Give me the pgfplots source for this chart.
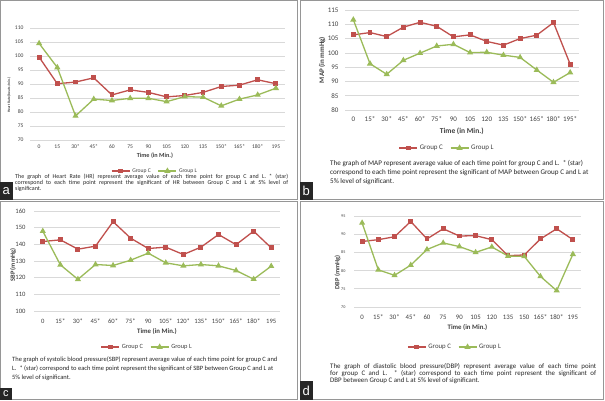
\documentclass[border=0pt]{standalone}
\usepackage{pgfplots}
\pgfplotsset{compat=1.18}
\usepackage{fontspec}
\setmainfont{Carlito}
\newfontfamily\arialfont{Liberation Sans}
\definecolor{cC}{RGB}{192,80,77}
\definecolor{cL}{RGB}{155,187,89}
\definecolor{gridc}{RGB}{217,217,217}
\definecolor{tickc}{RGB}{64,64,64}
\definecolor{framec}{RGB}{150,150,150}
\newcommand{\fs}[1]{\fontsize{#1}{#1}\selectfont}
\pgfplotsset{
 panel/.style={
  scale only axis, xmin=-0.5, xmax=13.5, xtick={0,...,13},
  axis line style={draw=none}, major tick length=0pt,
  ymajorgrids, major grid style={gridc, line width=0.7pt},
  tick label style={text=tickc},
  /pgf/number format/assume math mode=true,
  xticklabel style={anchor=center},
  yticklabel style={anchor=east},
  legend columns=2,
  legend style={draw=none, fill=none, anchor=center, text=tickc,
    /tikz/every even column/.append style={column sep=5pt}},
  legend image code/.code={\draw[mark repeat=2,mark phase=2] plot coordinates {(0pt,0pt) (9pt,0pt) (18pt,0pt)};},
  clip=false,
  ylabel style={anchor=center, font=\bfseries, text=tickc},
  xlabel style={anchor=center, font=\bfseries, text=tickc},
 },
 grpC/.style={color=cC, line width=1.3pt, mark=square*, mark size=1.8pt},
 grpL/.style={color=cL, line width=1.3pt, mark=triangle*, mark size=2.3pt},
}
\begin{document}
\begin{tikzpicture}[x=1pt,y=1pt]
\fill[white] (0,0) rectangle (605,400);
\draw[framec, line width=0.7pt] (0.4,201) rectangle (297.5,399.6);
\draw[framec, line width=0.7pt] (300.4,201) rectangle (603,399.6);
\draw[framec, line width=0.7pt] (0.4,0.4) rectangle (297.5,199);
\draw[framec, line width=0.7pt] (300.4,0.4) rectangle (603,199);

% ---------- a: Heart rate ----------
\begin{axis}[panel, at={(30pt,260pt)}, anchor=south west, width=255pt, height=112pt,
  ymin=70, ymax=110, ytick={70,75,...,110},
  xticklabels={0,15,30*,45*,60,75,90,105,120,135,150*,165*,180*,195},
  xticklabel style={yshift=-7pt, font=\fs{5.6}},
  yticklabel style={xshift=-3pt, font=\fs{5.6}},
  xlabel={Time (in Min.)}, xlabel style={at={(axis description cs:0.49,-0.143)}, font=\bfseries\fs{6.2}},
  ylabel={Heart Rate (beats/min.)}, ylabel style={at={(axis description cs:-0.082,0.40)}, font=\bfseries\fs{3.6}},
  legend style={at={(0.49,-0.277)}, font=\fs{5.6}},
]
\addplot[grpC] coordinates {(0,99.6)(1,90.1)(2,90.7)(3,92.2)(4,86.1)(5,87.9)(6,87.0)(7,85.4)(8,85.9)(9,87.0)(10,89.1)(11,89.6)(12,91.5)(13,90.1)};
\addlegendentry{Group C}
\addplot[grpL] coordinates {(0,104.5)(1,95.9)(2,78.6)(3,84.6)(4,84.1)(5,84.9)(6,84.9)(7,83.7)(8,85.5)(9,85.3)(10,82.2)(11,84.6)(12,86.1)(13,88.5)};
\addlegendentry{Group L}
\end{axis}
\node[anchor=north west, inner sep=0pt, text width=273pt, align=justify, font=\fs{6.0}, text=black!85] at (15,226)
 {\baselineskip=6.7pt The graph of Heart Rate (HR) represent average value of each time point for group C and L. * (star)\linebreak correspond to each time point represent the significant of HR between Group C and L at 5\% level of\linebreak significant.};
\fill[black!85] (0,200.5) rectangle (12.5,218);
\node[white, font=\arialfont\fs{13}, inner sep=0pt] at (6.3,209) {a};

% ---------- b: MAP ----------
\begin{axis}[panel, at={(345pt,290pt)}, anchor=south west, width=233.5pt, height=100pt,
  ymin=80, ymax=115, ytick={80,85,...,115},
  xticklabels={0,15*,30*,45*,60*,75*,90,105,120,135,150*,165*,180*,195*},
  xticklabel style={yshift=-9pt, font=\fs{7}},
  yticklabel style={xshift=-3pt, font=\fs{7}},
  xlabel={Time (in Min.)}, xlabel style={at={(axis description cs:0.50,-0.21)}, font=\bfseries\fs{7.5}},
  ylabel={MAP (in mmHg)}, ylabel style={at={(axis description cs:-0.098,0.5)}, font=\bfseries\fs{7}},
  legend style={at={(0.437,-0.38)}, font=\fs{7}},
]
\addplot[grpC] coordinates {(0,106.3)(1,107.1)(2,105.7)(3,109.0)(4,110.7)(5,109.3)(6,105.6)(7,106.3)(8,104.0)(9,102.7)(10,105.0)(11,106.2)(12,110.6)(13,96.0)};
\addlegendentry{Group C}
\addplot[grpL] coordinates {(0,111.6)(1,96.2)(2,92.5)(3,97.4)(4,99.9)(5,102.4)(6,103.0)(7,100.1)(8,100.2)(9,99.2)(10,98.4)(11,94.0)(12,89.7)(13,93.1)};
\addlegendentry{Group L}
\end{axis}
\node[anchor=north west, inner sep=0pt, align=left, font=\fontsize{7.1}{9}\selectfont, text=black!85] at (330,240)
 {The graph of MAP represent average value of each time point for group C and L.\ \ * (star)\\ correspond to each time point represent the significant of MAP between Group C and L at\\ 5\% level of significant.};
\fill[black!85] (300,200.5) rectangle (312.5,218);
\node[white, font=\arialfont\fs{13}, inner sep=0pt] at (306.3,209) {b};

% ---------- c: SBP ----------
\begin{axis}[panel, at={(34pt,89pt)}, anchor=south west, width=246pt, height=100pt,
  ymin=100, ymax=160, ytick={100,110,...,160},
  xticklabels={0,15*,30*,45*,60*,75*,90,105*,120*,135*,150*,165*,180*,195},
  xticklabel style={yshift=-10pt, font=\fs{6.6}},
  yticklabel style={xshift=-5pt, font=\fs{6.6}},
  xlabel={Time (in Min.)}, xlabel style={at={(axis description cs:0.50,-0.20)}, font=\bfseries\fs{6.8}},
  ylabel={SBP (mmHg)}, ylabel style={at={(axis description cs:-0.085,0.46)}, font=\bfseries\fs{6.4}},
  legend style={at={(0.46,-0.36)}, font=\fs{6.4}},
]
\addplot[grpC] coordinates {(0,141.7)(1,142.7)(2,137.1)(3,138.9)(4,153.6)(5,143.7)(6,137.5)(7,138.3)(8,133.9)(9,138.3)(10,145.9)(11,139.8)(12,147.9)(13,137.9)};
\addlegendentry{Group C}
\addplot[grpL] coordinates {(0,147.9)(1,127.7)(2,119.0)(3,127.9)(4,127.3)(5,130.5)(6,134.7)(7,128.9)(8,127.1)(9,127.9)(10,127.1)(11,124.3)(12,119.1)(13,126.9)};
\addlegendentry{Group L}
\end{axis}
\node[anchor=north west, inner sep=0pt, align=left, font=\fontsize{6.5}{9}\selectfont, text=black!85] at (12,43)
 {The graph of systolic blood pressure(SBP) represent average value of each time point for group C and\\ L.\ \ * (star) correspond to each time point represent the significant of SBP between Group C and L at\\ 5\% level of significant.};
\fill[black!85] (0,0) rectangle (11.5,12);
\node[white, font=\arialfont\fs{11}, inner sep=0pt] at (5.8,6) {c};

% ---------- d: DBP ----------
\begin{axis}[panel, at={(354pt,93pt)}, anchor=south west, width=227pt, height=91pt,
  ymin=70, ymax=95, ytick={70,75,...,95},
  xticklabels={0,15*,30*,45*,60,75,90,105,120,135,150,165*,180*,195},
  xticklabel style={yshift=-10pt, font=\fs{6.8}},
  yticklabel style={xshift=-5pt, font=\fs{4.2}},
  xlabel={Time (in Min.)}, xlabel style={at={(axis description cs:0.50,-0.23)}, font=\bfseries\fs{6.8}},
  ylabel={DBP (mmHg)}, ylabel style={at={(axis description cs:-0.072,0.38)}, font=\bfseries\fs{6.4}},
  legend style={at={(0.445,-0.44)}, font=\fs{6.8}},
]
\addplot[grpC] coordinates {(0,88.0)(1,88.5)(2,89.3)(3,93.5)(4,88.7)(5,91.5)(6,89.5)(7,89.6)(8,88.5)(9,84.1)(10,84.3)(11,88.7)(12,91.5)(13,88.5)};
\addlegendentry{Group C}
\addplot[grpL] coordinates {(0,93.1)(1,80.2)(2,78.7)(3,81.5)(4,85.8)(5,87.6)(6,86.6)(7,85.0)(8,86.5)(9,84.0)(10,83.9)(11,78.4)(12,74.5)(13,84.5)};
\addlegendentry{Group L}
\end{axis}
\node[anchor=north west, inner sep=0pt, text width=266pt, align=justify, font=\fs{6.9}, text=black!85] at (330,36.5)
 {\baselineskip=9pt The graph of diastolic blood pressure(DBP) represent average value of each time point\linebreak for group C and L.\ \ * (star) correspond to each time point represent the significant of\linebreak DBP between Group C and L at 5\% level of significant.};
\fill[black!85] (300,0) rectangle (312.5,19);
\node[white, font=\arialfont\fs{13}, inner sep=0pt] at (306.3,9.5) {d};
\end{tikzpicture}
\end{document}
